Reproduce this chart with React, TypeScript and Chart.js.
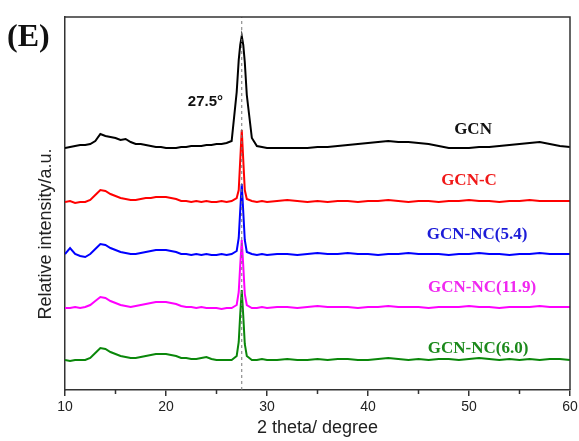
import { useEffect, useRef } from 'react';
import { Chart, registerables } from 'chart.js';

Chart.register(...registerables);

// 2θ positions (degrees); sampled more finely around the (002) reflection
const angles = [
  10, 10.5, 11, 11.5, 12, 12.5, 13, 13.5, 14, 14.5, 15, 15.5, 16, 16.5, 17, 17.5,
  18, 18.5, 19, 19.5, 20, 20.5, 21, 21.5, 22, 22.5, 23, 23.5, 24, 24.5, 25, 25.5,
  26, 26.5, 27, 27.2, 27.35, 27.5, 27.65, 27.8, 28, 28.5, 29, 29.5, 30,
  31, 32, 33, 34, 35, 36, 37, 38, 39, 40, 41, 42, 43, 44, 45, 46, 47, 48, 49, 50,
  51, 52, 53, 54, 55, 56, 57, 58, 59, 60,
];

// Stacked, offset intensities (a.u.)
const gcn = [
  242, 243, 244, 245, 245, 246, 249, 256, 254, 253, 252, 250, 251, 248, 246, 246,
  245, 244, 243, 243, 242, 242, 242, 243, 243, 244, 244, 244, 245, 245, 246, 246,
  247, 249, 298, 330, 345, 354, 345, 328, 295, 252, 244, 243, 242,
  242, 242, 242, 242, 243, 243, 244, 245, 246, 247, 248, 249, 248, 248, 247, 246, 244, 242, 242, 242,
  243, 243, 244, 245, 246, 247, 248, 246, 244, 243,
];

const gcnC = [
  188, 189, 187, 188, 188, 190, 195, 200, 199, 196, 194, 192, 191, 190, 190, 191,
  192, 192, 193, 193, 193, 192, 191, 189, 189, 188, 189, 188, 189, 188, 188, 189,
  188, 189, 192, 200, 230, 260, 230, 200, 191, 189, 188, 189, 188,
  189, 190, 189, 188, 189, 188, 189, 189, 188, 189, 189, 190, 189, 188, 189, 189, 188, 189, 189, 190,
  189, 189, 188, 189, 189, 190, 189, 189, 189, 189,
];

const gcnNC54 = [
  136, 142, 136, 134, 133, 136, 141, 146, 145, 142, 140, 138, 137, 136, 136, 137,
  138, 139, 140, 140, 140, 139, 138, 136, 136, 135, 136, 135, 136, 135, 135, 136,
  135, 136, 139, 152, 180, 206, 178, 150, 138, 136, 135, 136, 135,
  136, 136, 135, 136, 137, 136, 136, 137, 136, 136, 135, 136, 136, 137, 136, 136, 136, 135, 136, 136,
  137, 136, 136, 135, 136, 136, 137, 136, 136, 136,
];

const gcnNC119 = [
  82, 82, 83, 82, 83, 85, 89, 93, 92, 89, 87, 85, 84, 83, 84, 85,
  86, 87, 88, 88, 88, 87, 86, 84, 83, 83, 82, 83, 82, 82, 82, 81,
  82, 82, 85, 98, 125, 150, 124, 96, 85, 82, 82, 83, 82,
  83, 83, 82, 83, 84, 83, 83, 83, 82, 83, 83, 84, 83, 83, 83, 82, 83, 83, 83, 84,
  83, 83, 82, 83, 83, 83, 84, 83, 83, 83,
];

const gcnNC60 = [
  30, 29, 30, 30, 30, 32, 37, 42, 41, 38, 36, 34, 33, 32, 32, 33,
  34, 35, 36, 36, 36, 35, 34, 32, 32, 31, 31, 32, 33, 31, 30, 30,
  30, 30, 34, 48, 76, 100, 74, 46, 34, 30, 30, 31, 30,
  30, 31, 30, 30, 31, 30, 31, 31, 30, 30, 31, 32, 31, 30, 31, 30, 31, 31, 30, 31,
  32, 31, 30, 31, 30, 31, 30, 31, 31, 30,
];

const seriesNames = ['GCN', 'GCN-C', 'GCN-NC(5.4)', 'GCN-NC(11.9)', 'GCN-NC(6.0)'];
const seriesValues = [gcn, gcnC, gcnNC54, gcnNC119, gcnNC60];
const lineColors = ['#000000', '#ff0000', '#0000ff', '#ff00ff', '#0a870a'];
const labelColors = ['#111111', '#f01818', '#1c1cd8', '#f028f0', '#1c8a1c'];

const xTicks = [10, 20, 30, 40, 50, 60];
const xMinorTicks = [15, 25, 35, 45, 55];
const yRange = [0, 373];
const peakAngle = 27.5;
const peakText = '27.5°';
const yTitle = 'Relative intensity/a.u.';

// Where each curve's name sits, in data units (2θ, intensity)
const labelAnchors = [
  [50.4, 260],
  [50.0, 209],
  [50.8, 155],
  [51.3, 102],
  [50.9, 41],
];
const peakTextAnchor = [23.9, 288];

const decorations = {
  id: 'decorations',
  afterDraw(chart: any) {
    const { ctx, chartArea: a, scales } = chart;
    const x = scales.x;
    const y = scales.y;
    ctx.save();

    // closing frame on top and right
    ctx.strokeStyle = '#333333';
    ctx.lineWidth = 1.5;
    ctx.beginPath();
    ctx.moveTo(a.left, a.top);
    ctx.lineTo(a.right, a.top);
    ctx.lineTo(a.right, a.bottom);
    ctx.stroke();

    // short minor ticks under the x axis
    ctx.beginPath();
    for (const v of xMinorTicks) {
      const px = x.getPixelForValue(v);
      ctx.moveTo(px, a.bottom);
      ctx.lineTo(px, a.bottom + 4);
    }
    ctx.stroke();

    // curve names
    ctx.textAlign = 'center';
    ctx.textBaseline = 'middle';
    ctx.font = 'bold 17px "Liberation Serif", "Times New Roman", serif';
    seriesNames.forEach((name, i) => {
      ctx.fillStyle = labelColors[i];
      ctx.fillText(name, x.getPixelForValue(labelAnchors[i][0]), y.getPixelForValue(labelAnchors[i][1]));
    });

    // peak position
    ctx.fillStyle = '#111111';
    ctx.font = 'bold 15px "Liberation Sans", Arial, sans-serif';
    ctx.fillText(peakText, x.getPixelForValue(peakTextAnchor[0]), y.getPixelForValue(peakTextAnchor[1]));

    // y axis title, sitting a little below the middle of the axis
    ctx.save();
    ctx.translate(46, 234);
    ctx.rotate(-Math.PI / 2);
    ctx.fillStyle = '#222222';
    ctx.font = '18px "Liberation Sans", Arial, sans-serif';
    ctx.fillText(yTitle, 0, 0);
    ctx.restore();

    // panel letter
    ctx.textAlign = 'left';
    ctx.fillStyle = '#111111';
    ctx.font = 'bold 32px "Liberation Serif", "Times New Roman", serif';
    ctx.fillText('(E)', 7, 38);

    ctx.restore();
  },
};

export default function App() {
  const canvasRef = useRef<HTMLCanvasElement | null>(null);

  useEffect(() => {
    const canvas = canvasRef.current;
    if (!canvas) return;

    const curves = seriesValues.map((vals, i) => ({
      label: seriesNames[i],
      data: angles.map((a, k) => ({ x: a, y: vals[k] })),
      borderColor: lineColors[i],
      borderWidth: 2,
      pointRadius: 0,
      tension: 0,
      fill: false,
    }));

    const guide = {
      label: 'peak',
      data: [
        { x: peakAngle, y: yRange[0] },
        { x: peakAngle, y: yRange[1] },
      ],
      borderColor: '#777777',
      borderWidth: 1,
      borderDash: [3, 3],
      pointRadius: 0,
      fill: false,
    };

    const chart = new Chart(canvas, {
      type: 'line',
      data: { datasets: [guide, ...curves] as any },
      options: {
        responsive: false,
        animation: false,
        devicePixelRatio: 1,
        layout: { padding: { left: 0, top: 17, right: 9, bottom: 0 } },
        plugins: { legend: { display: false }, tooltip: { enabled: false } },
        scales: {
          x: {
            type: 'linear',
            min: xTicks[0],
            max: xTicks[xTicks.length - 1],
            afterBuildTicks: (s: any) => {
              s.ticks = xTicks.map((v) => ({ value: v }));
            },
            ticks: {
              color: '#222222',
              padding: 3,
              font: { family: '"Liberation Sans", Arial, sans-serif', size: 14 },
            },
            grid: {
              drawOnChartArea: false,
              drawTicks: true,
              tickLength: 6,
              color: '#333333',
              lineWidth: 1.5,
            },
            border: { display: true, color: '#333333', width: 1.5 },
            title: {
              display: true,
              text: '2 theta/ degree',
              color: '#222222',
              font: { family: '"Liberation Sans", Arial, sans-serif', size: 18 },
              padding: { top: 0, bottom: 2 },
            },
            afterFit: (s: any) => {
              s.height = 51;
              s.paddingLeft = 0;
              s.paddingRight = 0;
            },
          },
          y: {
            type: 'linear',
            min: yRange[0],
            max: yRange[1],
            ticks: { display: false },
            grid: { display: false },
            border: { display: true, color: '#333333', width: 1.5 },
            title: { display: false },
            afterFit: (s: any) => {
              s.width = 65;
              s.paddingTop = 0;
              s.paddingBottom = 0;
            },
          },
        },
      },
      plugins: [decorations],
    });

    return () => chart.destroy();
  }, []);

  return (
    <div style={{ position: 'absolute', left: 0, top: 0, width: 579, height: 441, background: '#ffffff' }}>
      <canvas ref={canvasRef} width={579} height={441} style={{ display: 'block' }} />
    </div>
  );
}
